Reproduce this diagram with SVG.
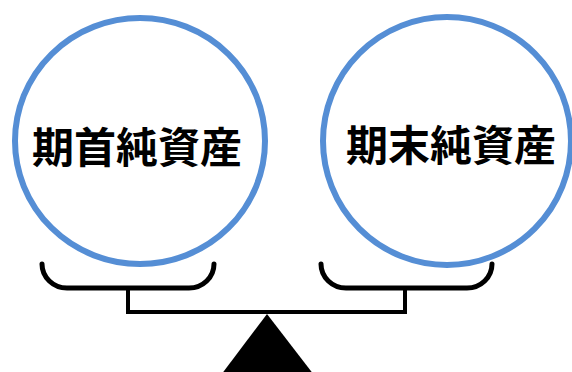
<svg xmlns="http://www.w3.org/2000/svg" width="572" height="372" viewBox="0 0 572 372">
<style>
.c{fill:#fff;stroke:#558ed5;stroke-width:6}
.t{font-family:"Noto Sans CJK JP","Noto Sans CJK SC",sans-serif;font-weight:bold;font-size:42px;fill:#000;text-anchor:middle}
.s{fill:none;stroke:#000;stroke-width:5;stroke-linecap:round}
.b{fill:none;stroke:#000;stroke-width:4}
</style>
<g id="connectors">
<path class="s" d="M42,264 A25,24 0 0 0 67,288 L189,288 A25,24 0 0 0 214,264"/>
<path class="s" d="M321,264 A25,24 0 0 0 346,288 L467,288 A25,24 0 0 0 492,264"/>
<path class="b" d="M128,288 V312 H405 V288"/>
<polygon points="267,314 221,375 314,375" fill="#000"/>
</g>
<g id="left">
<ellipse class="c" cx="140" cy="141" rx="125" ry="123"/>
<text class="t" x="137" y="163">期首純資産</text>
</g>
<g id="right">
<ellipse class="c" cx="447" cy="141" rx="124" ry="124"/>
<text class="t" x="451" y="161">期末純資産</text>
</g>
</svg>
